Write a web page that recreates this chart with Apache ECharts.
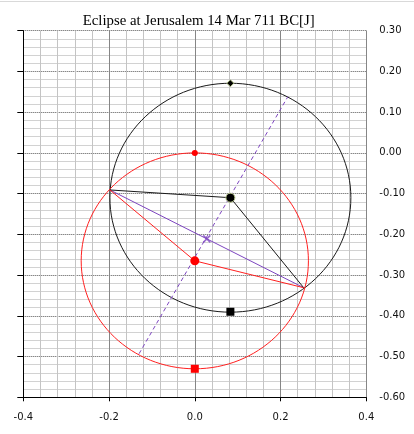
<!DOCTYPE html>
<html>
<head>
<meta charset="utf-8">
<script src="https://cdn.jsdelivr.net/npm/echarts@6/dist/echarts.min.js"></script>
<style>
html,body{margin:0;padding:0;background:#fff;}
#c{width:414px;height:434px;}
</style>
</head>
<body>
<div id="c"></div>
<script>
// ---- data ----
const titleText = 'Eclipse at Jerusalem 14 Mar 711 BC[J]';
const xRange = [-0.4, 0.4];
const yRange = [-0.6, 0.3];
// circles: [cx, cy, r]
const blackCircle = [[0.083, -0.110, 0.281]];
const redCircle = [[0.000, -0.265, 0.265]];
const blackPath = [[-0.198, -0.091], [0.083, -0.110], [0.254, -0.331]];
const redPath = [[-0.198, -0.091], [0.000, -0.265], [0.254, -0.331]];
const chord = [[-0.198, -0.091], [0.254, -0.331]];
const chordMid = [[0.028, -0.211]];
const centerLine = [[-0.130, -0.493], [0.217, 0.138]];
const blackTop = [[0.083, 0.171]];
const blackCenter = [[0.083, -0.110]];
const blackBottom = [[0.083, -0.390]];
const redTop = [[0.000, 0.000]];
const redCenter = [[0.000, -0.265]];
const redBottom = [[0.000, -0.530]];

const chart = echarts.init(document.getElementById('c'), null, {renderer: 'canvas'});
const labelFont = {fontFamily: 'DejaVu Sans', fontSize: 10, color: '#111'};
const clean = v => (Math.abs(v) < 1e-9 ? 0 : v);

function circleSeries(data, color) {
  return {
    type: 'custom',
    data: data,
    encode: {x: 0, y: 1},
    silent: true,
    z: 2,
    renderItem: function (params, api) {
      const c = api.coord([api.value(0), api.value(1)]);
      const s = api.size([api.value(2), api.value(2)]);
      return {
        type: 'ellipse',
        shape: {cx: c[0], cy: c[1], rx: s[0], ry: s[1]},
        style: {fill: 'none', stroke: color, lineWidth: 1}
      };
    }
  };
}
function lineSeries(data, color, type) {
  return {
    type: 'line', data: data, symbol: 'none', silent: true, z: 3,
    lineStyle: {color: color, width: 1, type: type || 'solid'},
    animation: false
  };
}
function markSeries(data, symbol, size, color, border) {
  return {
    type: 'scatter', data: data, symbol: symbol, symbolSize: size, silent: true, z: 5,
    itemStyle: {color: color, borderColor: border || color, borderWidth: border ? 1 : 0, opacity: 1}
  };
}

chart.setOption({
  animation: false,
  backgroundColor: '#fff',
  grid: {left: 23.3, right: 47.7, top: 30.7, bottom: 36.7, containLabel: false},
  graphic: [
    {type: 'line', shape: {x1: 0, y1: 1.5, x2: 414, y2: 1.5}, style: {stroke: '#d9d9d9', lineWidth: 1}, silent: true},
    {type: 'text', x: 198.7, y: 21, style: {text: titleText, font: '14.8px "Liberation Serif"', fill: '#000', align: 'center', verticalAlign: 'middle'}, silent: true}
  ],
  xAxis: {
    type: 'value', min: xRange[0], max: xRange[1], interval: 0.2,
    axisLine: {show: true, onZero: false, lineStyle: {color: '#000', width: 1}},
    axisTick: {show: true, length: 4, lineStyle: {color: '#000'}},
    axisLabel: Object.assign({margin: 15, formatter: v => clean(v).toFixed(1)}, labelFont),
    splitLine: {show: true, lineStyle: {color: '#868686', width: 1}},
    minorTick: {show: false, splitNumber: 5},
    minorSplitLine: {show: true, lineStyle: {color: '#c4c4c4', width: 1}}
  },
  yAxis: [{
    type: 'value', min: yRange[0], max: yRange[1], interval: 0.1, position: 'left',
    axisLine: {show: true, onZero: false, lineStyle: {color: '#000', width: 1}},
    axisTick: {show: true, length: 6, lineStyle: {color: '#000'}},
    axisLabel: {show: false},
    splitLine: {show: true, lineStyle: {color: '#555', width: 1, type: [1, 1]}},
    minorTick: {show: false, splitNumber: 5},
    minorSplitLine: {show: true, lineStyle: {color: '#d2d2d2', width: 1}}
  }, {
    type: 'value', min: yRange[0], max: yRange[1], interval: 0.1, position: 'right',
    axisLine: {show: false}, axisTick: {show: false}, splitLine: {show: false},
    axisLabel: Object.assign({margin: 13, formatter: v => clean(v).toFixed(2)}, labelFont)
  }],
  series: [
    circleSeries(blackCircle, '#1a1a1a'),
    circleSeries(redCircle, '#ff2020'),
    lineSeries(centerLine, '#7d45c0', [4, 3]),
    lineSeries(chord, '#7d45c0'),
    lineSeries(blackPath, '#1a1a1a'),
    lineSeries(redPath, '#ff2020'),
    {
      type: 'scatter', data: chordMid, symbol: 'path://M0,0L10,10M10,0L0,10', symbolSize: 7, silent: true, z: 5,
      itemStyle: {color: 'none', borderColor: '#7d45c0', borderWidth: 1.5}
    },
    markSeries(blackTop, 'diamond', 7, '#000', '#b5c48a'),
    markSeries(blackCenter, 'circle', 9, '#000', '#b5c48a'),
    markSeries(blackBottom, 'rect', 8, '#000'),
    markSeries(redTop, 'circle', 6, '#ff0000'),
    markSeries(redCenter, 'circle', 9, '#ff0000'),
    markSeries(redBottom, 'rect', 8, '#ff0000')
  ]
});
</script>
</body>
</html>
